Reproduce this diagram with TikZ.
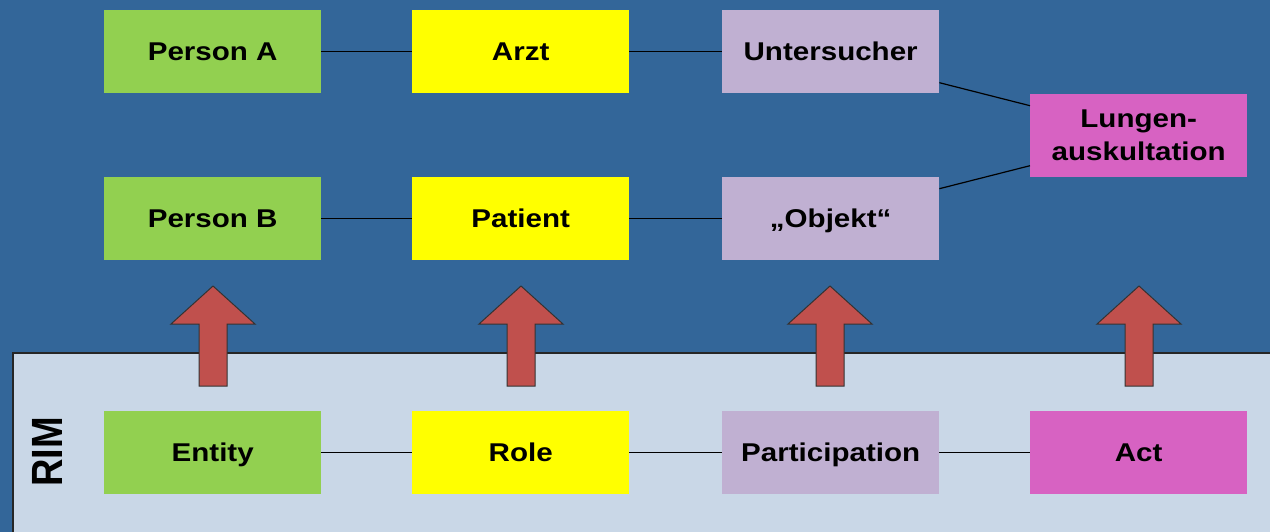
\documentclass[tikz,border=0pt]{standalone}
\usepackage{fontspec}
\setmainfont{Liberation Sans}[FakeStretch=1.15]
\newfontfamily\rimfont{Liberation Sans}
\definecolor{bgblue}{HTML}{336699}
\definecolor{rimbg}{HTML}{C9D7E7}
\definecolor{entgreen}{HTML}{92D050}
\definecolor{roleyel}{HTML}{FFFF00}
\definecolor{partlil}{HTML}{C0B0D2}
\definecolor{actmag}{HTML}{D762C2}
\definecolor{arrred}{HTML}{C0504D}
\begin{document}
\begin{tikzpicture}[x=1pt,y=-1pt,
  basebox/.style={minimum width=217pt,minimum height=83pt,inner sep=0pt,anchor=north west,
    font=\fontsize{25.7}{33}\selectfont\bfseries,align=center},
  box/.style={basebox,text height=20pt,text depth=3pt},
  ent/.style={box,fill=entgreen},
  rol/.style={box,fill=roleyel},
  par/.style={box,fill=partlil},
  act/.style={box,fill=actmag},
  conn/.style={draw=black,line width=1.2pt},
  uparrow/.style={fill=arrred,draw=black!80,line width=1pt}]
\fill[bgblue] (0,0) rectangle (1270,532);
\useasboundingbox (0,0) rectangle (1270,532);
\draw[fill=rimbg,draw=black!85,line width=1.2pt] (13,353) rectangle (1275,540);
\node[rotate=90,font=\rimfont\fontsize{38}{38}\selectfont\bfseries] (rim) at (47,452) {\scalebox{1}[1.15]{RIM}};
% top rows
\node[ent] (pa) at (104,10) {Person A};
\node[rol] (arzt) at (412,10) {Arzt};
\node[par] (unt) at (722,10) {Untersucher};
\node[ent] (pb) at (104,177) {Person B};
\node[rol] (pat) at (412,177) {Patient};
\node[par] (obj) at (722,177) {„Objekt“};
\node[basebox,fill=actmag] (lung) at (1030,94) {Lungen-\\auskultation\rule[-1pt]{0pt}{1pt}};
% RIM row
\node[ent] (entity) at (104,411) {Entity};
\node[rol] (role) at (412,411) {Role};
\node[par] (part) at (722,411) {Participation};
\node[act] (actn) at (1030,411) {Act};
% connectors
\draw[conn] (pa.east) -- (arzt.west);
\draw[conn] (arzt.east) -- (unt.west);
\draw[conn] (pb.east) -- (pat.west);
\draw[conn] (pat.east) -- (obj.west);
\draw[conn] ([yshift=-31pt]unt.east) -- ([yshift=30pt]lung.west);
\draw[conn] ([yshift=30pt]obj.east) -- ([yshift=-30pt]lung.west);
\draw[conn] (entity.east) -- (role.west);
\draw[conn] (role.east) -- (part.west);
\draw[conn] (part.east) -- (actn.west);
% arrows
\foreach \cx in {213,521,830,1139}{
  \draw[uparrow] (\cx,286) -- (\cx+42,324) -- (\cx+14,324) -- (\cx+14,386)
    -- (\cx-14,386) -- (\cx-14,324) -- (\cx-42,324) -- cycle;
}
\end{tikzpicture}
\end{document}
